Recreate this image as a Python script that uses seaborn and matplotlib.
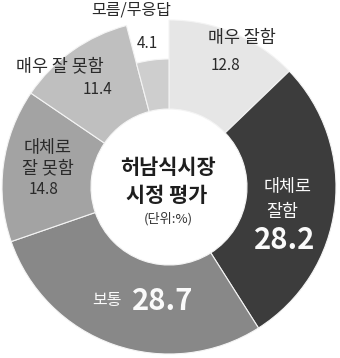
import matplotlib
matplotlib.use("Agg")
import matplotlib.pyplot as plt
import seaborn as sns

# ---- data ----
categories = ["매우 잘함", "대체로 잘함", "보통", "대체로 잘 못함", "매우 잘 못함", "모름/무응답"]
values = [12.8, 28.2, 28.7, 14.8, 11.4, 4.1]
value_labels = ["12.8", "28.2", "28.7", "14.8", "11.4", "4.1"]
title_lines = ["허남식시장", "시정 평가"]
unit_label = "(단위:%)"

# ---- style ----
sns.set_theme(style="white")
plt.rcParams['font.family'] = ['Noto Sans CJK KR', 'DejaVu Sans']
colors = ["#e6e6e6", "#3c3c3c", "#888888", "#a3a3a3", "#bfbfbf", "#cecece"]

W, H = 340, 358
fig = plt.figure(figsize=(W / 100, H / 100), dpi=100)
ax = fig.add_axes([0, 0, 1, 1])
ax.set_xlim(0, W)
ax.set_ylim(0, H)
ax.set_aspect('equal')
ax.axis('off')

def py(y):
    return H - y

cx, cy = 169, 187
R_out, R_in = 167, 78
R_small = 128

wedges, _ = ax.pie(values, colors=colors, startangle=90, counterclock=False,
                   center=(cx, py(cy)), radius=R_out,
                   wedgeprops=dict(width=R_out - R_in, edgecolor="#f4f4f4", linewidth=0.8))
# smaller outer radius for the last (모름/무응답) slice
wedges[-1].set_radius(R_small)
wedges[-1].set_width(R_small - R_in)
ax.set_xlim(0, W)
ax.set_ylim(0, H)

dark = "#2a2a2a"
white = "#fafafa"

def t(x, y, s, size, color=dark, weight="normal"):
    ax.text(x, py(y), s, ha="center", va="center", fontsize=size, color=color,
            fontweight=weight, linespacing=1.0)

# 모름/무응답
t(131, 10, categories[5], 11.5)
t(147, 44, value_labels[5], 11)
# 매우 잘함
t(242, 38, categories[0], 12.5)
t(226, 65, value_labels[0], 11)
# 매우 잘 못함
t(60, 66, categories[4], 12.5)
t(97, 90, value_labels[4], 11)
# 대체로 잘 못함
t(48, 148, "대체로", 12.5)
t(48, 168, "잘 못함", 12.5)
t(44, 190, value_labels[3], 11)
# 대체로 잘함
t(288, 187, "대체로", 12.5, white)
t(282, 212, "잘함", 12.5, white)
t(285, 240, value_labels[1], 21, white, "bold")
# 보통
t(107, 300, categories[2], 11.5, white)
t(163, 301, value_labels[2], 21, white, "bold")
# center
t(168, 167, title_lines[0], 15, "#1e1e1e", "bold")
t(167, 195, title_lines[1], 15, "#1e1e1e", "bold")
t(168, 219, unit_label, 9.5, "#333333")

fig.savefig("out.png", dpi=100, facecolor="white")
